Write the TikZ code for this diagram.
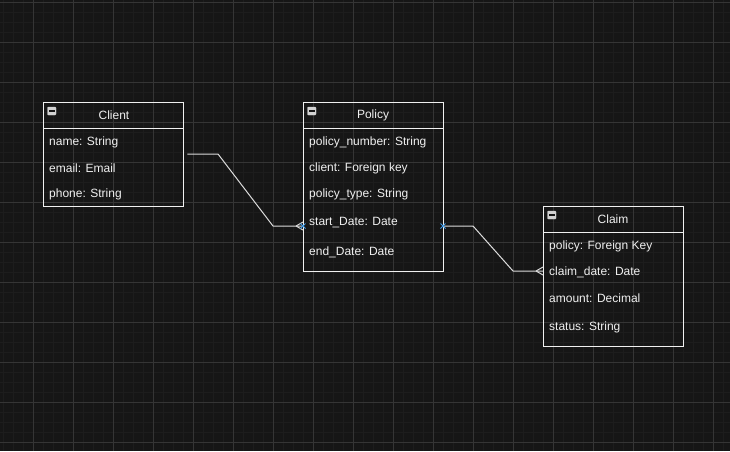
\documentclass[tikz,border=0pt]{standalone}
\usepackage{fontspec}
\setmainfont{Liberation Sans}
\begin{document}
\definecolor{bgcol}{HTML}{161616}
\definecolor{minorcol}{HTML}{1D1D1D}
\definecolor{majorcol}{HTML}{353535}
\definecolor{inkcol}{HTML}{F0F0F0}
\definecolor{wirecol}{HTML}{DCDCDC}
\definecolor{pincol}{HTML}{3D9BE9}
\definecolor{iconcol}{HTML}{D2D2D2}
\begin{tikzpicture}[x=1pt,y=-1pt,
  entity/.style={draw=inkcol, line width=0.9pt, minimum width=140pt, inner sep=0pt},
  title/.style={text=inkcol, font=\fontsize{12}{14}\selectfont, inner sep=0pt},
  field/.style={text=inkcol, font=\fontsize{12}{14}\selectfont, inner sep=0pt, anchor=west},
  wire/.style={draw=wirecol, line width=1pt},
  pin/.style={draw=pincol, line width=1pt},
  icon/.style={fill=iconcol, draw=iconcol, rounded corners=0.8pt}]
% canvas and grid
\fill[bgcol] (0,0) rectangle (730,451);
\useasboundingbox (0,0) rectangle (730,451);
\foreach \gx in {3,13,...,723} \draw[minorcol, line width=0.6pt] (\gx,0) -- (\gx,451);
\foreach \gy in {2,12,...,442} \draw[minorcol, line width=0.6pt] (0,\gy) -- (730,\gy);
\foreach \gx in {33,73,...,713} \draw[majorcol, line width=0.7pt] (\gx,0) -- (\gx,451);
\foreach \gy in {2,42,...,442} \draw[majorcol, line width=0.7pt] (0,\gy) -- (730,\gy);

% Client entity
\node[entity, minimum height=104pt] (client) at (113,154) {};
\draw[inkcol, line width=0.9pt] (43,128) -- (183,128);
\node[title] (clientT) at (114,115.5) {Client};
\node[field] (clientA) at (49,142.5) {name: String};
\node[field] (clientB) at (49,168.5) {email: Email};
\node[field] (clientC) at (49,194.5) {phone: String};
\fill[icon] (47.5,107) rectangle (56,115);
\draw[bgcol, line width=1.2pt] (49,111) -- (54.5,111);

% Policy entity
\node[entity, minimum height=169pt] (policy) at (373,186.5) {};
\draw[inkcol, line width=0.9pt] (303,128) -- (443,128);
\node[title] (policyT) at (373,115.5) {Policy};
\node[field] (policyA) at (309,142.5) {policy\_number: String};
\node[field] (policyB) at (309,168.5) {client: Foreign key};
\node[field] (policyC) at (309,194) {policy\_type: String};
\node[field] (policyD) at (309,223) {start\_Date: Date};
\node[field] (policyE) at (309,252.5) {end\_Date: Date};
\fill[icon] (307.5,107) rectangle (316,115);
\draw[bgcol, line width=1.2pt] (309,111) -- (314.5,111);

% Claim entity
\node[entity, minimum height=140pt] (claim) at (613,276) {};
\draw[inkcol, line width=0.9pt] (543,232) -- (683,232);
\node[title] (claimT) at (613,219.5) {Claim};
\node[field] (claimA) at (549,246) {policy: Foreign Key};
\node[field] (claimB) at (549,272) {claim\_date: Date};
\node[field] (claimC) at (549,298) {amount: Decimal};
\node[field] (claimD) at (549,327) {status: String};
\fill[icon] (547.5,211) rectangle (556,219);
\draw[bgcol, line width=1.2pt] (549,215) -- (554.5,215);

% connection points
\coordinate (policyL) at (303,226);
\coordinate (policyR) at (443,226);
\coordinate (claimL) at (543,271);
\coordinate (bendA) at (218,154);
\coordinate (bendB) at (273,226);
\coordinate (bendC) at (473,226);
\coordinate (bendD) at (513,271);

% Client -> Policy (many side at Policy)
\draw[wire, shorten <=4pt] (client.east) -- (bendA) -- (bendB) -- (policyL);
\draw[wire] ([xshift=-7pt]policyL) -- ([yshift=-4pt]policyL)
            ([xshift=-7pt]policyL) -- ([yshift=4pt]policyL);

% Policy -> Claim (many side at Claim)
\draw[wire] (policyR) -- (bendC) -- (bendD) -- (claimL);
\draw[wire] ([xshift=-7pt]claimL) -- ([yshift=-4pt]claimL)
            ([xshift=-7pt]claimL) -- ([yshift=4pt]claimL);

% selected-edge handles
\foreach \p in {policyL, policyR}
  \draw[pin] ([shift={(-2.5,-2.5)}]\p) -- ([shift={(2.5,2.5)}]\p)
             ([shift={(-2.5,2.5)}]\p) -- ([shift={(2.5,-2.5)}]\p);
\end{tikzpicture}
\end{document}
